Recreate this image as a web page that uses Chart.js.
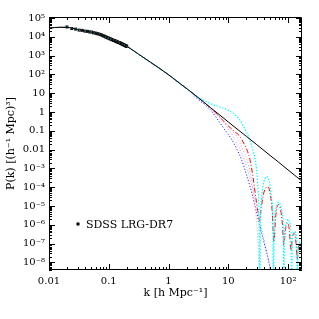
<!DOCTYPE html>
<html>
<head>
<meta charset="utf-8">
<script src="https://cdn.jsdelivr.net/npm/chart.js@4/dist/chart.umd.min.js"></script>
<style>
html,body{margin:0;padding:0;background:#fff;}
#wrap{width:319px;height:319px;position:relative;}
</style>
</head>
<body>
<div id="wrap"><canvas id="c" width="319" height="319"></canvas></div>
<script>
// ---- data ----
// shared large-scale part of all model curves
const kLow = [0.01, 0.015, 0.02, 0.03, 0.05, 0.07, 0.1, 0.15, 0.2, 0.3, 0.5, 0.72, 1, 1.5, 2.3];
const pLow = [2.95e4, 3.16e4, 3.16e4, 2.4e4, 1.78e4, 1.35e4, 8.3e3, 4.9e3, 3.1e3, 1.32e3, 437, 200, 95, 35.5, 12.6];

// black solid (CDM)
const kBlack = [3, 5, 7, 10, 15, 20, 30, 50, 70, 100, 140, 172];
const pBlack = [6.5, 1.74, 0.74, 0.295, 0.105, 0.051, 0.0182, 0.0049, 0.0021, 8.3e-4, 3.5e-4, 2.1e-4];

// red dashed
const kRed = [3, 5, 7, 9.5, 12.5, 15.8, 18.5, 21, 23, 26, 29, 32, 33.5, 35, 38, 42, 46, 50, 54, 58, 62, 66, 70, 75, 80, 85, 90, 95, 100, 105, 112, 118, 124, 130, 136, 142, 148, 154, 160, 166, 172];
const pRed = [6.5, 1.66, 0.60, 0.21, 0.095, 0.048, 0.019, 0.0079, 0.0029, 3.2e-4, 2.5e-5, 3.2e-6, 1.6e-6, 5e-6, 3.2e-5, 8.9e-5, 1.05e-4, 5e-5, 6.3e-6, 1.26e-7, 2.5e-6, 1e-5, 1.2e-5, 6.3e-6, 1.26e-6, 7.9e-8, 5e-7, 1.1e-6, 1.2e-6, 5e-7, 4.5e-8, 2e-7, 3.5e-7, 3.2e-7, 1e-7, 1.4e-8, 5e-8, 1e-7, 1e-7, 6.3e-8, 3.2e-8];

// cyan dotted
const kCyan = [3, 4, 5, 7, 9.5, 12, 13.9, 16, 18, 20, 21.8, 23.3, 24.8, 26.5, 28.2, 30, 31.5, 32.7, 33.5, 34.5, 36, 38, 41, 44, 47, 50, 53, 55.5, 57, 58.5, 61, 65, 70, 75, 80, 83.5, 85, 87, 92, 100, 108, 113, 115, 117, 122, 130, 137, 141, 143, 145, 150, 158, 165, 170, 172];
const pCyan = [6.5, 4.0, 2.8, 1.9, 1.32, 0.87, 0.575, 0.33, 0.17, 0.091, 0.05, 0.0275, 0.0148, 0.0071, 0.003, 6.3e-4, 6.3e-5, 2.5e-6, 1e-10, 1.6e-6, 2.5e-5, 1.1e-4, 2.8e-4, 3.7e-4, 2.8e-4, 1.26e-4, 2.5e-5, 2.5e-6, 1e-10, 1e-6, 5e-6, 1.1e-5, 1.6e-5, 1.1e-5, 4e-6, 5e-7, 1e-10, 2.5e-7, 1.1e-6, 2e-6, 1.1e-6, 1.6e-7, 1e-10, 1e-7, 3.2e-7, 4.5e-7, 2.5e-7, 3.2e-8, 1e-10, 1.6e-8, 8e-8, 1.26e-7, 8e-8, 1.6e-8, 3.2e-9];

// blue dotted
const kBlue = [3, 4, 5, 7.3, 9, 11.5, 14, 16.7, 20, 24.8, 29, 34, 40, 47, 52];
const pBlue = [5.2, 2.5, 1.32, 0.257, 0.1, 0.033, 0.01, 0.0029, 5e-4, 4.8e-5, 6.3e-6, 7.9e-7, 1e-7, 1.35e-8, 2.5e-9];

// light blue dotted
const kLav = [3, 5, 7, 10, 14, 18.5, 22, 27, 32, 38, 45, 52, 58];
const pLav = [6.0, 1.5, 0.54, 0.13, 0.02, 0.0029, 5e-4, 4e-5, 4e-6, 3.2e-7, 2.5e-8, 3.2e-9, 6.3e-10];

// light red dotted
const kPink = [3, 5, 7, 10, 14, 17, 20.5, 24, 27, 30, 33];
const pPink = [6.3, 1.58, 0.6, 0.178, 0.045, 0.0126, 0.0029, 3.2e-4, 2.5e-5, 1e-6, 3.2e-9];

// SDSS LRG-DR7 band powers
const kData = [0.020, 0.024, 0.028, 0.032, 0.036, 0.040, 0.044, 0.048, 0.052, 0.056, 0.060, 0.064, 0.068, 0.072, 0.076, 0.080, 0.084, 0.088, 0.092, 0.096, 0.100, 0.104, 0.108, 0.112, 0.116, 0.120, 0.124, 0.128, 0.132, 0.136, 0.140, 0.144, 0.148, 0.152, 0.156, 0.160, 0.164, 0.168, 0.172, 0.176, 0.180, 0.184, 0.188, 0.192, 0.196, 0.200];
const pData = [3.3e4, 2.75e4, 2.55e4, 2.25e4, 2.18e4, 1.98e4, 1.94e4, 1.80e4, 1.77e4, 1.61e4, 1.56e4, 1.45e4, 1.41e4, 1.30e4, 1.24e4, 1.12e4, 1.08e4, 9.8e3, 9.4e3, 8.7e3, 8.4e3, 7.8e3, 7.6e3, 7.0e3, 6.9e3, 6.4e3, 6.3e3, 5.9e3, 5.8e3, 5.4e3, 5.35e3, 5.0e3, 4.9e3, 4.75e3, 4.55e3, 4.45e3, 4.2e3, 4.1e3, 3.9e3, 3.8e3, 3.62e3, 3.55e3, 3.38e3, 3.32e3, 3.18e3, 3.1e3];

// ticks
const xTickValues = [0.01, 0.1, 1, 10, 100];
const xTickLabels = ['0.01', '0.1', '1', '10', '10²'];
const yTickValues = [1e5, 1e4, 1e3, 1e2, 10, 1, 0.1, 0.01, 1e-3, 1e-4, 1e-5, 1e-6, 1e-7, 1e-8];
const yTickLabels = ['10⁵', '10⁴', '10³', '10²', '10', '1', '0.1', '0.01', '10⁻³', '10⁻⁴', '10⁻⁵', '10⁻⁶', '10⁻⁷', '10⁻⁸'];
const xDecades = [-2, -1, 0, 1, 2];
const yDecades = [-9, -8, -7, -6, -5, -4, -3, -2, -1, 0, 1, 2, 3, 4, 5];
const minorSteps = [1, 2, 3, 4, 5, 6, 7, 8, 9];

const legendLabel = 'SDSS LRG-DR7';
const xTitle = 'k [h Mpc⁻¹]';
const yTitle = 'P(k) [(h⁻¹ Mpc)³]';

// ---- build ----
function pts(ks, ps) { return ks.map((k, i) => ({x: k, y: ps[i]})); }
function withLow(ks, ps) { return pts(kLow.concat(ks), pLow.concat(ps)); }

const FONT = "'DejaVu Serif', serif";

const tickPlugin = {
  id: 'frameTicks',
  afterDatasetsDraw(chart) {
    const {ctx, chartArea: a, scales} = chart;
    const xs = scales.x, ys = scales.y;
    ctx.save();
    ctx.strokeStyle = '#000';
    ctx.lineWidth = 1;
    ctx.beginPath();
    ctx.rect(Math.round(a.left) + 0.5, Math.round(a.top) + 0.5, Math.round(a.right - a.left) - 1, Math.round(a.bottom - a.top) - 1);
    ctx.stroke();
    ctx.beginPath();
    xDecades.forEach(d => {
      minorSteps.forEach(m => {
        const v = m * Math.pow(10, d);
        if (v < xs.min || v > xs.max) return;
        const px = Math.round(xs.getPixelForValue(v)) + 0.5;
        const len = m === 1 ? 6 : 3;
        ctx.moveTo(px, a.bottom); ctx.lineTo(px, a.bottom - len);
        ctx.moveTo(px, a.top); ctx.lineTo(px, a.top + len);
      });
    });
    yDecades.forEach(d => {
      minorSteps.forEach(m => {
        const v = m * Math.pow(10, d);
        if (v < ys.min || v > ys.max) return;
        const py = Math.round(ys.getPixelForValue(v)) + 0.5;
        const len = m === 1 ? 6 : 3;
        ctx.moveTo(a.left, py); ctx.lineTo(a.left + len, py);
        ctx.moveTo(a.right, py); ctx.lineTo(a.right - len, py);
      });
    });
    ctx.stroke();
    // legend
    const lx = a.left + 29, ly = a.top + 207;
    ctx.fillStyle = '#000';
    ctx.fillRect(lx - 1.5, ly - 1.5, 3, 3);
    ctx.font = "11px " + FONT;
    ctx.textBaseline = 'middle';
    ctx.textAlign = 'left';
    ctx.fillText(legendLabel, lx + 8, ly + 1);
    ctx.restore();
  }
};

const lineDS = (label, data, color, dash, width) => ({
  label, data, showLine: true, borderColor: color, backgroundColor: color,
  borderWidth: width || 1, borderDash: dash, pointRadius: 0, pointHoverRadius: 0,
  cubicInterpolationMode: 'monotone', fill: false, clip: true
});

new Chart(document.getElementById('c'), {
  type: 'scatter',
  data: {
    datasets: [
      lineDS('CDM', withLow(kBlack, pBlack), '#000000', [], 1),
      lineDS('cyan', withLow(kCyan, pCyan), '#00ffff', [1.5, 1.5], 1.2),
      lineDS('lightblue', withLow(kLav, pLav), '#a8a8ff', [1, 2], 1),
      lineDS('lightred', withLow(kPink, pPink), '#ff9a9a', [1, 2], 1),
      lineDS('blue', withLow(kBlue, pBlue), '#0000ff', [1, 2], 1),
      lineDS('red', withLow(kRed, pRed), '#ff0000', [5, 2, 1, 2], 1),
      {
        label: legendLabel, data: pts(kData, pData), showLine: false,
        pointStyle: 'rect', pointRadius: 2.1, pointHoverRadius: 2.1,
        backgroundColor: '#000', borderColor: '#000', borderWidth: 0
      }
    ]
  },
  options: {
    responsive: false,
    animation: false,
    events: [],
    layout: {padding: {left: 0, right: 17, top: 17, bottom: 0}},
    plugins: {legend: {display: false}, tooltip: {enabled: false}},
    scales: {
      x: {
        type: 'logarithmic', min: 0.01, max: 171,
        grid: {display: false, drawTicks: false},
        border: {display: false},
        afterBuildTicks: s => { s.ticks = xTickValues.map(v => ({value: v})); },
        afterFit: s => { s.height = 49; },
        ticks: {
          autoSkip: false, maxRotation: 0, minRotation: 0, padding: 5, color: '#000',
          font: {family: FONT, size: 10},
          callback: (v) => { const i = xTickValues.indexOf(v); return i >= 0 ? xTickLabels[i] : ''; }
        },
        title: {display: true, text: xTitle, color: '#000', font: {family: FONT, size: 11}, padding: {top: 0, bottom: 19}}
      },
      y: {
        type: 'logarithmic', min: 3.98e-9, max: 1.12e5,
        grid: {display: false, drawTicks: false},
        border: {display: false},
        afterBuildTicks: s => { s.ticks = yTickValues.map(v => ({value: v})); },
        afterFit: s => { s.width = 49; },
        ticks: {
          autoSkip: false, padding: 4, color: '#000',
          font: {family: FONT, size: 10},
          callback: (v) => { const i = yTickValues.indexOf(v); return i >= 0 ? yTickLabels[i] : ''; }
        },
        title: {display: true, text: yTitle, color: '#000', font: {family: FONT, size: 11}, padding: {top: 5, bottom: 0}}
      }
    }
  },
  plugins: [tickPlugin]
});
</script>
</body>
</html>
